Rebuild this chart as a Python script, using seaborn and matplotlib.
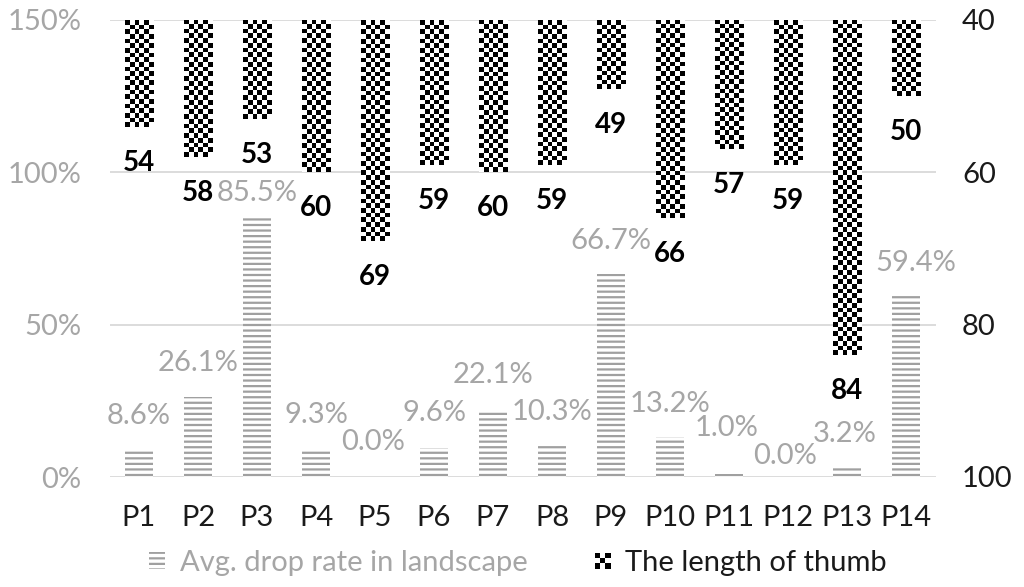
import numpy as np
import pandas as pd
import seaborn as sns
import matplotlib.pyplot as plt
from matplotlib.patches import Patch, Rectangle
from matplotlib.legend_handler import HandlerBase

participants = ["P1", "P2", "P3", "P4", "P5", "P6", "P7",
                "P8", "P9", "P10", "P11", "P12", "P13", "P14"]
drop_rate = [8.6, 26.1, 85.5, 9.3, 0.0, 9.6, 22.1, 10.3, 66.7, 13.2, 1.0, 0.0, 3.2, 59.4]
thumb_length = [54, 58, 53, 60, 69, 59, 60, 59, 49, 66, 57, 59, 84, 50]

# label nudges in pixels (dx, dy above the bar top), as placed in the original
drop_label_shift = [(0, 35), (0, 34), (0, 24), (0, 34), (-2, 35), (0, 35), (0, 35),
                    (0, 34), (0, 33), (0, 33), (-2, 46), (-3, 21), (-2, 33), (10, 33)]

GRAY = "#a6a6a6"
HATCH = "#a0a0a0"
GRID = "#d9d9d9"
DARK = "#1a1a1a"
FONT_SIZE = 21
CELL = 4.7  # checker square size in px


class CheckerHandler(HandlerBase):
    def create_artists(self, legend, orig_handle, xdescent, ydescent,
                       width, height, fontsize, trans):
        n = 3
        side = min(width, height)
        x0 = -xdescent + (width - side) / 2
        y0 = -ydescent + (height - side) / 2
        s = side / n
        arts = []
        for r in range(n):
            for c in range(n):
                col = "black" if (r + c) % 2 == 0 else "white"
                arts.append(Rectangle((x0 + c * s, y0 + r * s), s, s,
                                      facecolor=col, edgecolor="none", transform=trans))
        return arts


def fill_checker(ax, patch, top=40):
    x0 = patch.get_x()
    w = patch.get_width()
    y1 = patch.get_y() + patch.get_height()
    p0 = ax.transData.transform((x0, top))
    p1 = ax.transData.transform((x0 + w, y1))
    ncols = max(1, int(round(abs(p1[0] - p0[0]) / CELL)))
    nrows = max(1, int(round(abs(p1[1] - p0[1]) / CELL)))
    grid = np.add.outer(np.arange(nrows), np.arange(ncols)) % 2
    ax.imshow(grid, cmap="gray", vmin=0, vmax=1, extent=(x0, x0 + w, y1, top),
              origin="upper", interpolation="nearest", aspect="auto", zorder=3)
    patch.set_visible(False)


def main():
    sns.set_theme(style="white")
    plt.rcParams["font.family"] = ["Lato", "DejaVu Sans"]
    plt.rcParams["hatch.linewidth"] = 1.6
    plt.rcParams["hatch.color"] = HATCH

    df = pd.DataFrame({"participant": participants, "drop": drop_rate, "thumb": thumb_length})

    fig = plt.figure(figsize=(10.24, 5.87), dpi=100)
    ax = fig.add_axes([109.5 / 1024, 1 - 477 / 587, 826 / 1024, 457 / 587])
    ax2 = ax.twinx()

    sns.barplot(data=df, x="participant", y="drop", ax=ax, width=0.475,
                color="white", errorbar=None)
    for p in ax.patches:
        p.set_facecolor("white")
        p.set_edgecolor(HATCH)
        p.set_linewidth(0)
        p.set_hatch("---")

    sns.barplot(data=df, x="participant", y="thumb", ax=ax2, width=0.475,
                color="white", errorbar=None)

    ax.set_ylim(0, 150)
    ax2.set_ylim(100, 40)
    ax.set_xlim(-0.5, len(participants) - 0.5)

    for p in list(ax2.patches):
        fill_checker(ax2, p)
    ax2.set_ylim(100, 40)
    ax2.set_xlim(-0.5, len(participants) - 0.5)

    # labels
    for i, v in enumerate(drop_rate):
        dx, dy = drop_label_shift[i]
        ax.annotate(f"{v:.1f}%", (i, v), xytext=(dx, dy), textcoords="offset pixels",
                    ha="center", va="center", color=GRAY, fontsize=FONT_SIZE)
    for i, v in enumerate(thumb_length):
        ax2.annotate(str(v), (i, v), xytext=(0, -36), textcoords="offset pixels",
                     ha="center", va="center", color="black", fontsize=FONT_SIZE - 1,
                     fontweight="bold", zorder=5)

    # axes styling
    ax.set_yticks([0, 50, 100, 150])
    ax.set_yticklabels([f"{t}%" for t in [0, 50, 100, 150]])
    ax2.set_yticks([40, 60, 80, 100])
    ax.yaxis.grid(True, color=GRID, linewidth=1.3)
    ax.set_axisbelow(True)
    for a in (ax, ax2):
        a.set_xlabel("")
        a.set_ylabel("")
        for s in a.spines.values():
            s.set_visible(False)
    ax.tick_params(axis="y", length=0, pad=20, labelsize=FONT_SIZE, labelcolor=GRAY)
    ax.tick_params(axis="x", length=0, pad=20, labelsize=FONT_SIZE, labelcolor=DARK)
    ax2.tick_params(axis="y", length=0, pad=19, labelsize=FONT_SIZE, labelcolor=DARK)
    ax2.tick_params(axis="x", length=0)

    handles = [Patch(facecolor="white", edgecolor=HATCH, linewidth=0, hatch="---"),
               Patch(facecolor="black")]
    labels = ["Avg. drop rate in landscape", "The length of thumb"]
    fig.legend(handles, labels, loc="center", bbox_to_anchor=(518 / 1024, 1 - 563 / 587),
               ncol=2, frameon=False, fontsize=FONT_SIZE, labelcolor=[GRAY, DARK],
               handlelength=0.55, handleheight=0.55, handletextpad=0.5, columnspacing=2.3,
               handler_map={handles[1]: CheckerHandler()})

    fig.savefig("out.png", dpi=100)


if __name__ == "__main__":
    main()
